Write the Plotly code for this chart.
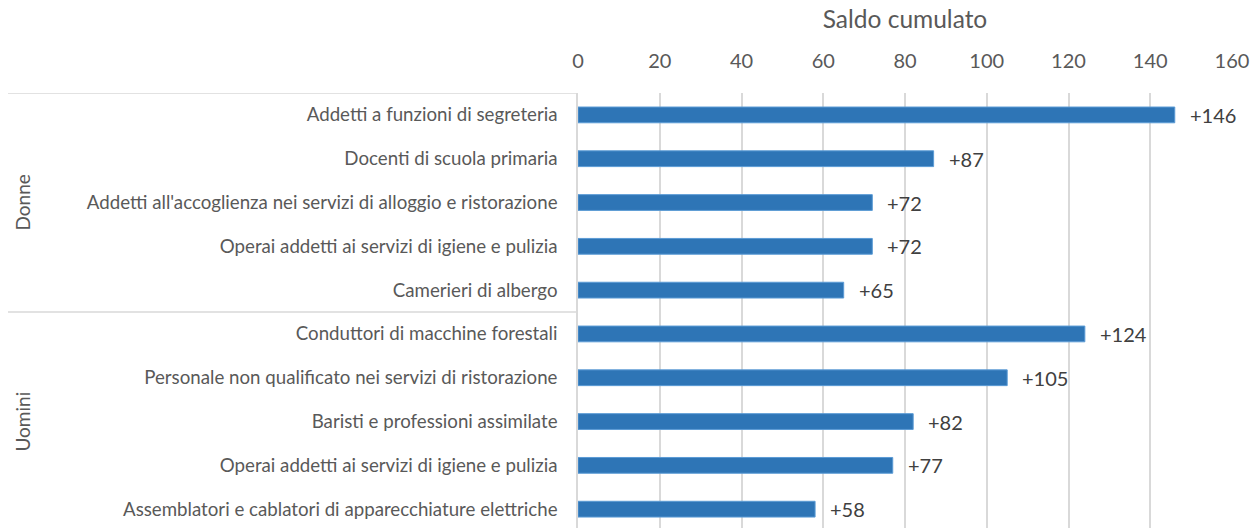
import plotly.graph_objects as go

groups = ["Donne", "Uomini"]
labels = [
    "Addetti a funzioni di segreteria",
    "Docenti di scuola primaria",
    "Addetti all'accoglienza nei servizi di alloggio e ristorazione",
    "Operai addetti ai servizi di igiene e pulizia",
    "Camerieri di albergo",
    "Conduttori di macchine forestali",
    "Personale non qualificato nei servizi di ristorazione",
    "Baristi e professioni assimilate",
    "Operai addetti ai servizi di igiene e pulizia",
    "Assemblatori e cablatori di apparecchiature elettriche",
]
group_of = ["Donne"] * 5 + ["Uomini"] * 5
values = [146, 87, 72, 72, 65, 124, 105, 82, 77, 58]
x_ticks = [0, 20, 40, 60, 80, 100, 120, 140, 160]
axis_title = "Saldo cumulato"

W, H = 1251, 528
ML, MR, MT, MB = 578, 19, 93, 0
FONT = "Lato"
pos = list(range(len(labels)))

fig = go.Figure()
fig.add_trace(go.Bar(
    x=values, y=pos, orientation="h", width=0.36,
    marker=dict(color="#2E75B6", line=dict(color="#5B9BD5", width=1)),
    hoverinfo="x+y", showlegend=False,
))

annotations = []
for v, p in zip(values, pos):
    annotations.append(dict(
        x=v, y=p, xref="x", yref="y", text=f"+{v}", showarrow=False,
        xanchor="left", yanchor="middle", xshift=13,
        font=dict(family=FONT, size=20, color="#404040"),
    ))

plot_w = W - ML - MR
left_px = 8
x_left = -(ML - left_px) / plot_w

shapes = []
bounds = []
for g in groups:
    idx = [i for i, gg in enumerate(group_of) if gg == g]
    bounds.append((g, idx[0], idx[-1]))
for g, a, b in bounds:
    shapes.append(dict(type="line", xref="paper", yref="y", x0=x_left, x1=0,
                       y0=a - 0.5, y1=a - 0.5,
                       line=dict(color="#D9D9D9", width=1.5)))
    annotations.append(dict(
        x=-(ML - 23) / plot_w, y=(a + b) / 2, xref="paper", yref="y",
        text=g, textangle=-90, showarrow=False, xanchor="center", yanchor="middle",
        font=dict(family=FONT, size=19, color="#595959"),
    ))

fig.update_layout(
    width=W, height=H,
    margin=dict(l=ML, r=MR, t=MT, b=MB, pad=0, autoexpand=False),
    paper_bgcolor="white", plot_bgcolor="white",
    font=dict(family=FONT, color="#595959"),
    annotations=annotations, shapes=shapes,
)
fig.update_xaxes(
    side="top", range=[0, 160], tickvals=x_ticks,
    showgrid=True, gridcolor="#D9D9D9", gridwidth=1.5,
    zeroline=False, showline=False,
    tickfont=dict(family=FONT, size=20, color="#595959"),
    ticks="", ticklabelstandoff=20, ticklabeloverflow="allow",
    title=dict(text=axis_title, font=dict(family=FONT, size=24.5, color="#595959"), standoff=12),
    fixedrange=True, automargin=False,
)
fig.update_yaxes(
    range=[9.43, -0.5], tickvals=pos, ticktext=labels,
    showgrid=False, zeroline=False,
    showline=True, linecolor="#D9D9D9", linewidth=1.5,
    ticks="", ticklabelstandoff=15,
    tickfont=dict(family=FONT, size=18.7, color="#595959"),
    fixedrange=True, automargin=False,
)

fig.write_html(
    "out.html",
    config={"displayModeBar": False},
    post_script="document.body.style.margin='0';document.body.style.overflow='hidden';",
)
